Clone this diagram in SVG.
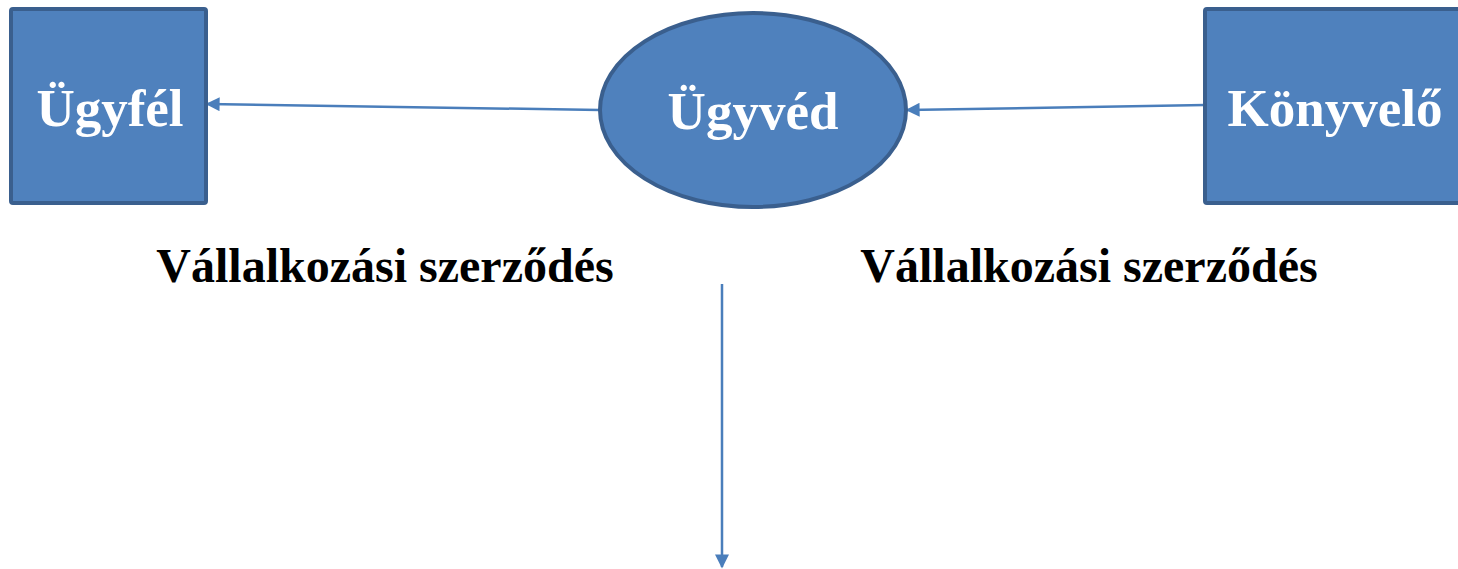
<svg xmlns="http://www.w3.org/2000/svg" width="1458" height="569" viewBox="0 0 1458 569">
<style>
.node{fill:#4F81BD;stroke:#3A5F8E;stroke-width:4}
.nt{font-family:"Liberation Serif",serif;font-weight:bold;font-size:53px;fill:#fff;text-anchor:middle}
.lb{font-family:"Liberation Serif",serif;font-weight:bold;font-size:48px;fill:#000;text-anchor:middle}
.con{stroke:#4A7EBB;stroke-width:2.5;fill:none;marker-end:url(#ah)}
</style>
<defs>
<marker id="ah" viewBox="0 0 10 10" refX="9" refY="5" markerWidth="15" markerHeight="14" markerUnits="userSpaceOnUse" orient="auto">
<path d="M0,0 L10,5 L0,10 z" fill="#4A7EBB"/>
</marker>
</defs>
<g id="connectors">
<line class="con" x1="600" y1="110" x2="207" y2="104"/>
<line class="con" x1="1205" y1="105" x2="907" y2="110"/>
<line class="con" x1="722" y1="284" x2="722" y2="567"/>
</g>
<g id="ugyfel">
<rect class="node" x="11" y="9" width="195" height="194" rx="2"/>
<text class="nt" x="110" y="126">Ügyfél</text>
</g>
<g id="ugyved">
<ellipse class="node" cx="753" cy="110" rx="153" ry="97"/>
<text class="nt" x="753" y="129">Ügyvéd</text>
</g>
<g id="konyvelo">
<rect class="node" x="1205" y="9" width="260" height="194" rx="2"/>
<text class="nt" x="1335" y="126">Könyvelő</text>
</g>
<g id="labels">
<text class="lb" x="385" y="282">Vállalkozási szerződés</text>
<text class="lb" x="1089" y="282">Vállalkozási szerződés</text>
</g>
</svg>
